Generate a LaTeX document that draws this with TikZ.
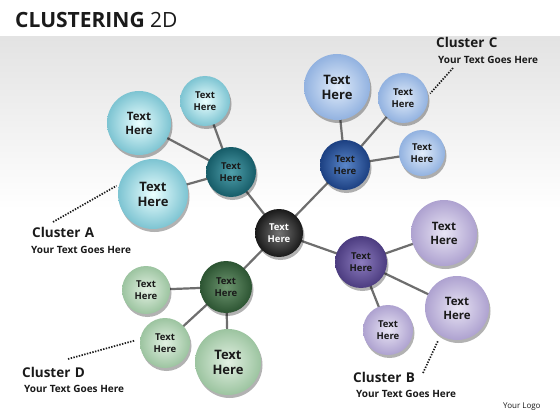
\documentclass[tikz,border=0pt]{standalone}
\usepackage{fontspec}
\setmainfont{Open Sans}
\usetikzlibrary{shadows,calc}
\definecolor{txt}{HTML}{1A1A1A}
\definecolor{linkc}{HTML}{6E6E6E}
\pgfdeclarelayer{bg}
\pgfdeclarelayer{links}
\pgfsetlayers{bg,links,main}
\tikzset{
  sph/.style={circle, inner sep=0pt, minimum size=#1, text=txt,
    font=\bfseries, align=center,
    drop shadow={shadow xshift=1.5pt, shadow yshift=-3pt, opacity=0.3, fill=black}},
  sa/.style={shading=radial, inner color=cyan!8!white, outer color={rgb,255:red,125;green,196;blue,210}},
  sha/.style={shading=radial, inner color={rgb,255:red,80;green,160;blue,172}, outer color={rgb,255:red,22;green,92;blue,104}},
  sc/.style={shading=radial, inner color={rgb,255:red,225;green,236;blue,250}, outer color={rgb,255:red,146;green,178;blue,224}},
  shc/.style={shading=radial, inner color={rgb,255:red,90;green,134;blue,200}, outer color={rgb,255:red,28;green,64;blue,130}},
  sb/.style={shading=radial, inner color={rgb,255:red,232;green,228;blue,244}, outer color={rgb,255:red,174;green,162;blue,208}},
  shb/.style={shading=radial, inner color={rgb,255:red,140;green,124;blue,190}, outer color={rgb,255:red,76;green,60;blue,128}},
  sd/.style={shading=radial, inner color={rgb,255:red,226;green,240;blue,226}, outer color={rgb,255:red,156;green,196;blue,160}},
  shd/.style={shading=radial, inner color={rgb,255:red,110;green,150;blue,112}, outer color={rgb,255:red,44;green,84;blue,50}},
  sx/.style={shading=radial, inner color=black!55, outer color=black!90, text=white},
  fbig/.style={font=\bfseries\fontsize{13}{15}\selectfont},
  fmid/.style={font=\bfseries\fontsize{11.5}{14}\selectfont},
  fsm/.style={font=\bfseries\fontsize{9.5}{12}\selectfont},
  link/.style={draw=linkc, line width=2.2pt},
  dots/.style={draw=txt, line width=1.7pt, dash pattern=on 1.4pt off 1.4pt},
  ctitle/.style={anchor=base west, text=txt, font=\bfseries\fontsize{13.5}{15}\selectfont, inner sep=0pt},
  csub/.style={anchor=base west, text=txt, font=\bfseries\fontsize{10}{11}\selectfont, inner sep=0pt},
}
\begin{document}
\begin{tikzpicture}[x=1pt,y=-1pt]
\useasboundingbox (0,0) rectangle (560,420);
\begin{pgfonlayer}{bg}
\fill[white] (0,0) rectangle (560,420);
\shade[top color=black!11, bottom color=white] (0,37) rectangle (560,210);
\end{pgfonlayer}
\node[anchor=base west, inner sep=0pt, text=txt, font=\fontsize{21}{24}\selectfont] (title) at (15,28) {\textbf{CLUSTERING} 2D};
% nodes
\node[sph=48pt, sx, fsm] (ctr) at (279,233) {Text\\Here};
\node[sph=50pt, sha, fsm] (ha) at (231,172) {Text\\Here};
\node[sph=64pt, sa, fmid] (a1) at (139,123) {Text\\Here};
\node[sph=50pt, sa, fsm] (a2) at (205,101) {Text\\Here};
\node[sph=70pt, sa, fbig] (a3) at (153,194) {Text\\Here};
\node[sph=50pt, shc, fsm] (hc) at (345,165) {Text\\Here};
\node[sph=66pt, sc, fbig] (c1) at (337,87) {Text\\Here};
\node[sph=50pt, sc, fsm] (c2) at (403,98) {Text\\Here};
\node[sph=46pt, sc, fsm] (c3) at (422,153) {Text\\Here};
\node[sph=52pt, shb, fsm] (hb) at (361,262) {Text\\Here};
\node[sph=66pt, sb, fmid] (b1) at (444,233) {Text\\Here};
\node[sph=64pt, sb, fmid] (b2) at (457,308) {Text\\Here};
\node[sph=50pt, sb, fsm] (b3) at (388,330) {Text\\Here};
\node[sph=52pt, shd, fsm] (hd) at (226,287) {Text\\Here};
\node[sph=48pt, sd, fsm] (d1) at (146,290) {Text\\Here};
\node[sph=50pt, sd, fsm] (d2) at (165,343) {Text\\Here};
\node[sph=66pt, sd, fbig] (d3) at (228,362) {Text\\Here};
% links
\begin{pgfonlayer}{links}
\draw[link] (ctr.center) -- (ha.center);
\draw[link] (ctr.center) -- (hc.center);
\draw[link] (ctr.center) -- (hb.center);
\draw[link] (ctr.center) -- (hd.center);
\foreach \s in {a1,a2,a3} \draw[link] (ha.center) -- (\s.center);
\foreach \s in {c1,c2,c3} \draw[link] (hc.center) -- (\s.center);
\foreach \s in {b1,b2,b3} \draw[link] (hb.center) -- (\s.center);
\foreach \s in {d1,d2,d3} \draw[link] (hd.center) -- (\s.center);
\end{pgfonlayer}
% cluster labels
\node[ctitle] (lA) at (32,237) {Cluster\,\,A};
\node[csub] (sA) at (31,253) {Your Text Goes Here};
\node[ctitle] (lC) at (436,48) {Cluster\,\,C};
\node[csub] (sC) at (438,64) {Your Text Goes Here};
\node[ctitle] (lB) at (353,382) {Cluster\,\,B};
\node[csub] (sB) at (356,397) {Your Text Goes Here};
\node[ctitle] (lD) at (22,377) {Cluster\,\,D};
\node[csub] (sD) at (24,392) {Your Text Goes Here};
\node[anchor=base west, inner sep=0pt, text=txt, font=\fontsize{8}{9}\selectfont] (logo) at (503,408) {Your Logo};
% dotted pointers
\coordinate (pA) at (53,222);
\coordinate (pC) at (453,68);
\coordinate (pB) at (423,373);
\coordinate (pD) at (68,359);
\draw[dots, shorten >=3pt] (pA) -- (a3.164);
\draw[dots, shorten >=3pt] (pC) -- (c2.5);
\draw[dots, shorten >=6pt] (pB) -- (b2.239);
\draw[dots, shorten >=6pt] (pD) -- (d2.171);
\end{tikzpicture}
\end{document}
